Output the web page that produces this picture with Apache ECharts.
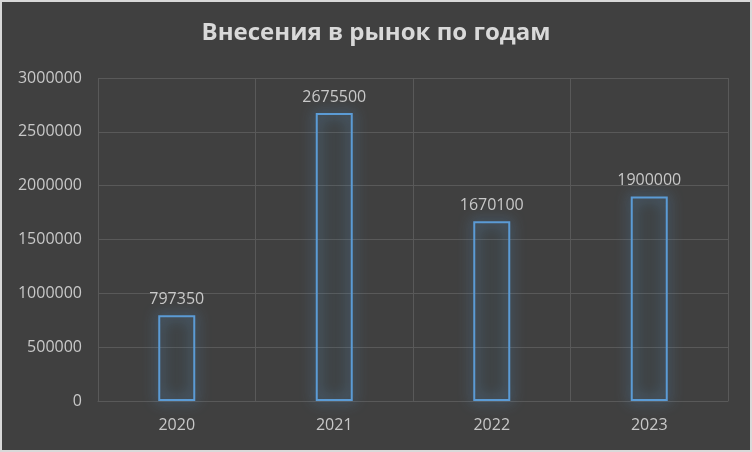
<!DOCTYPE html>
<html>
<head>
<meta charset="utf-8">
<script src="https://cdn.jsdelivr.net/npm/echarts@6/dist/echarts.min.js"></script>
<style>
html,body{margin:0;padding:0;background:#d9d9d9;}
#c{position:absolute;left:2px;top:2px;width:748px;height:448px;}
</style>
</head>
<body>
<div id="c"></div>
<script>
const titleText = 'Внесения в рынок по годам';
const categories = ['2020', '2021', '2022', '2023'];
const values = [797350, 2675500, 1670100, 1900000];
const yTicks = { min: 0, max: 3000000, interval: 500000 };

const chart = echarts.init(document.getElementById('c'), null, { renderer: 'canvas' });
chart.setOption({
  backgroundColor: '#404040',
  animation: false,
  title: {
    text: titleText,
    left: 'center',
    top: 14,
    textStyle: { color: '#d9d9d9', fontFamily: 'Open Sans', fontWeight: 'bold', fontSize: 24 }
  },
  grid: { left: 96, right: 22, top: 76, bottom: 49 },
  xAxis: {
    type: 'category',
    data: categories,
    axisLine: { show: true, lineStyle: { color: '#595959', width: 1 } },
    axisTick: { show: false },
    splitLine: { show: true, lineStyle: { color: '#595959', width: 1 } },
    axisLabel: { color: '#c8c8c8', fontFamily: 'Open Sans', fontSize: 16, margin: 16 }
  },
  yAxis: {
    type: 'value',
    min: yTicks.min,
    max: yTicks.max,
    interval: yTicks.interval,
    axisLine: { show: false },
    axisTick: { show: false },
    splitLine: { show: true, lineStyle: { color: '#595959', width: 1 } },
    axisLabel: { color: '#c8c8c8', fontFamily: 'Open Sans', fontSize: 16, margin: 16, formatter: v => String(v) }
  },
  series: [{
    type: 'bar',
    data: values,
    barWidth: 37,
    itemStyle: {
      color: 'rgba(91,155,213,0.025)',
      borderColor: '#5b9bd5',
      borderWidth: 2,
      shadowColor: 'rgba(91,155,213,1)',
      shadowBlur: 14
    },
    label: {
      show: true,
      position: 'top',
      distance: 8,
      color: '#c8c8c8',
      fontFamily: 'Open Sans',
      fontSize: 16
    }
  }]
});
</script>
</body>
</html>
